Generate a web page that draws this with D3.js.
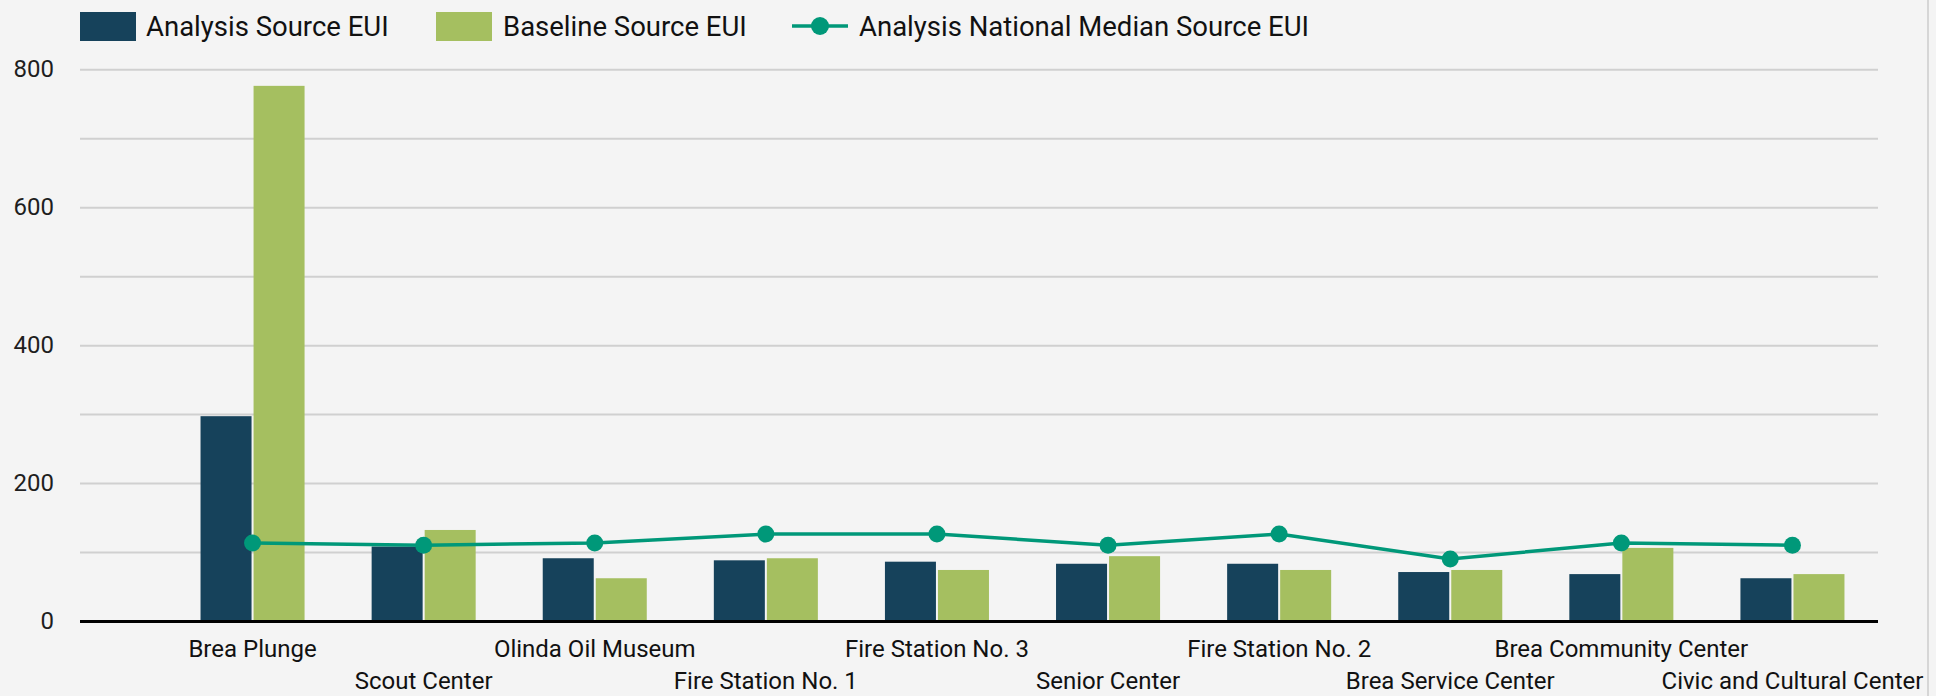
<!DOCTYPE html>
<html>
<head>
<meta charset="utf-8">
<script src="https://cdn.jsdelivr.net/npm/d3@7"></script>
<style>
  html, body { margin: 0; padding: 0; background: #f4f4f4; }
  svg { display: block; }
  text { font-family: Roboto, "Noto Sans", sans-serif; }
</style>
</head>
<body>
<svg id="chart" width="1936" height="696"></svg>
<script>
const categories = ["Brea Plunge", "Scout Center", "Olinda Oil Museum", "Fire Station No. 1",
  "Fire Station No. 3", "Senior Center", "Fire Station No. 2", "Brea Service Center",
  "Brea Community Center", "Civic and Cultural Center"];
const seriesNames = ["Analysis Source EUI", "Baseline Source EUI", "Analysis National Median Source EUI"];
const analysisEUI = [297, 108, 91, 88, 86, 83, 83, 71, 68, 62];
const baselineEUI = [776, 132, 62, 91, 74, 94, 74, 74, 106, 68];
const medianEUI = [113, 110, 113, 126, 126, 110, 126, 90, 113, 110];
const yTickLabels = [0, 200, 400, 600, 800];
const gridValues = [100, 200, 300, 400, 500, 600, 700, 800];

const colors = { analysis: "#16425b", baseline: "#a5bf60", median: "#009879" };

const svg = d3.select("#chart");
const W = 1936, H = 696;
const plotLeft = 80, plotRight = 1878, yTop = 69.3, yBase = 621;

svg.append("rect").attr("x", 0).attr("y", 0).attr("width", W).attr("height", H).attr("fill", "#f4f4f4");
svg.append("line").attr("x1", 1928).attr("x2", 1928).attr("y1", 0).attr("y2", H)
  .attr("stroke", "#d6d6d6").attr("stroke-width", 2);

const y = d3.scaleLinear().domain([0, 800]).range([yBase, yTop]);
const x0 = d3.scaleBand().domain(categories).range([167, plotRight]).paddingInner(0.392).paddingOuter(0.196);
const x1 = d3.scaleBand().domain(["analysis", "baseline"]).range([0, x0.bandwidth()]).paddingInner(0.038);

// gridlines
const grid = svg.append("g").attr("transform", `translate(${plotLeft},0)`)
  .call(d3.axisLeft(y).tickValues(gridValues).tickSize(-(plotRight - plotLeft)).tickFormat(""));
grid.select(".domain").remove();
grid.selectAll(".tick line").attr("stroke", "#d0d0d0").attr("stroke-width", 2);

// y labels
const yAxis = svg.append("g").attr("transform", `translate(${plotLeft},0)`)
  .call(d3.axisLeft(y).tickValues(yTickLabels).tickSize(0).tickPadding(26).tickFormat(d3.format("d")));
yAxis.select(".domain").remove();
yAxis.selectAll("text").attr("font-size", 24).attr("fill", "#1e1e1e")
  .attr("font-family", "Roboto, sans-serif").attr("dy", "0.32em");

// bars
const data = categories.map((c, i) => ({ cat: c, analysis: analysisEUI[i], baseline: baselineEUI[i], median: medianEUI[i] }));
const groups = svg.append("g").selectAll("g").data(data).join("g")
  .attr("transform", d => `translate(${x0(d.cat)},0)`);
groups.selectAll("rect").data(d => ["analysis", "baseline"].map(k => ({ k, v: d[k] }))).join("rect")
  .attr("x", d => x1(d.k)).attr("width", x1.bandwidth())
  .attr("y", d => y(d.v)).attr("height", d => y(0) - y(d.v))
  .attr("fill", d => colors[d.k]);

// x axis baseline
svg.append("line").attr("x1", plotLeft).attr("x2", plotRight).attr("y1", yBase + 0.5).attr("y2", yBase + 0.5)
  .attr("stroke", "#000").attr("stroke-width", 3);

// x labels alternating rows
const cx = d => x0(d) + x0.bandwidth() / 2;
svg.append("g").selectAll("text").data(categories).join("text")
  .attr("x", d => cx(d))
  .attr("y", (d, i) => i % 2 === 0 ? 657 : 689)
  .attr("text-anchor", "middle").attr("font-size", 24).attr("fill", "#111")
  .text(d => d);

// median line
const line = d3.line().x(d => cx(d.cat)).y(d => y(d.median));
svg.append("path").datum(data).attr("d", line).attr("fill", "none")
  .attr("stroke", colors.median).attr("stroke-width", 3.5);
svg.append("g").selectAll("circle").data(data).join("circle")
  .attr("cx", d => cx(d.cat)).attr("cy", d => y(d.median)).attr("r", 8.5).attr("fill", colors.median);

// legend
const leg = svg.append("g");
leg.append("rect").attr("x", 80).attr("y", 12).attr("width", 56).attr("height", 29).attr("fill", colors.analysis);
leg.append("text").attr("x", 146).attr("y", 36).attr("font-size", 27.5).attr("fill", "#111").text(seriesNames[0]);
leg.append("rect").attr("x", 436).attr("y", 12).attr("width", 56).attr("height", 29).attr("fill", colors.baseline);
leg.append("text").attr("x", 503).attr("y", 36).attr("font-size", 27.5).attr("fill", "#111").text(seriesNames[1]);
leg.append("line").attr("x1", 792).attr("x2", 848).attr("y1", 26).attr("y2", 26)
  .attr("stroke", colors.median).attr("stroke-width", 3.5);
leg.append("circle").attr("cx", 820).attr("cy", 26).attr("r", 9).attr("fill", colors.median);
leg.append("text").attr("x", 859).attr("y", 36).attr("font-size", 27.5).attr("fill", "#111").text(seriesNames[2]);
</script>
</body>
</html>
